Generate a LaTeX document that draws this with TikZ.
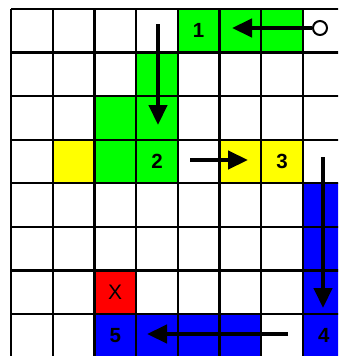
\documentclass[tikz,border=0pt]{standalone}
\usepackage{fontspec}
\setmainfont{Liberation Sans}
\usetikzlibrary{arrows.meta}
\definecolor{cgreen}{RGB}{0,255,0}
\definecolor{cyellow}{RGB}{255,255,0}
\definecolor{cblue}{RGB}{0,0,255}
\definecolor{cred}{RGB}{255,0,0}
\tikzset{
  num/.style={font=\fontsize{20.5}{20.5}\selectfont\bfseries, inner sep=0pt},
  xlab/.style={font=\fontsize{21}{21}\selectfont, inner sep=0pt},
  mv/.style={line width=4.5pt, -{Triangle[length=20pt,width=18pt]}},
  gridline/.style={line width=2.3pt, black},
}
\newcommand{\cw}{41.7}
\newcommand{\ch}{43.57}
\begin{document}
\begin{tikzpicture}[x=1pt,y=-1pt]
\useasboundingbox (0,0) rectangle (338,356);
\clip (0,0) rectangle (338,356);
\fill[white] (0,0) rectangle (338,356);
% cell fill macro: column c, row r, colour
\def\cell#1#2#3{\fill[#3] ({11+#1*\cw},{9+#2*\ch}) rectangle ({11+(#1+1)*\cw},{9+(#2+1)*\ch});}
\cell{4}{0}{cgreen}\cell{5}{0}{cgreen}\cell{6}{0}{cgreen}
\cell{3}{1}{cgreen}
\cell{2}{2}{cgreen}\cell{3}{2}{cgreen}
\cell{1}{3}{cyellow}\cell{2}{3}{cgreen}\cell{3}{3}{cgreen}
\cell{5}{3}{cyellow}\cell{6}{3}{cyellow}
\cell{7}{4}{cblue}\cell{7}{5}{cblue}\cell{7}{6}{cblue}
\cell{2}{6}{cred}
\cell{2}{7}{cblue}\cell{3}{7}{cblue}\cell{4}{7}{cblue}\cell{5}{7}{cblue}
\cell{7}{7}{cblue}
% grid
\foreach \i in {0,...,8} {
  \draw[gridline] ({11+\i*\cw},9) -- ({11+\i*\cw},360);
  \draw[gridline] (11,{9+\i*\ch}) -- (345,{9+\i*\ch});
}
% labels
\node[num] (n1) at ({11+4.5*\cw},{9+0.5*\ch}) {1};
\node[num] (n2) at ({11+3.5*\cw},{9+3.5*\ch}) {2};
\node[num] (n3) at ({11+6.5*\cw},{9+3.5*\ch}) {3};
\node[num] (n4) at ({11+7.5*\cw},{9+7.5*\ch}) {4};
\node[num] (n5) at ({11+2.5*\cw},{9+7.5*\ch}) {5};
\node[xlab] (nx) at ({11+2.5*\cw},{9+6.5*\ch}) {X};
% arrow endpoints
\coordinate (a1s) at (320,28);
\coordinate (a1e) at (232,28);
\coordinate (a2s) at (158,24);
\coordinate (a2e) at (158,125);
\coordinate (a3s) at (190,160);
\coordinate (a3e) at (248,160);
\coordinate (a4s) at (323,157);
\coordinate (a4e) at (323,308);
\coordinate (a5s) at (288,334);
\coordinate (a5e) at (147,334);
\node[circle, draw, line width=2pt, fill=white, minimum size=14pt, inner sep=0pt] (start) at (a1s) {};
\draw[mv] (start.west) -- (a1e);
\draw[mv] (a2s) -- (a2e);
\draw[mv] (a3s) -- (a3e);
\draw[mv] (a4s) -- (a4e);
\draw[mv] (a5s) -- (a5e);
\end{tikzpicture}
\end{document}
